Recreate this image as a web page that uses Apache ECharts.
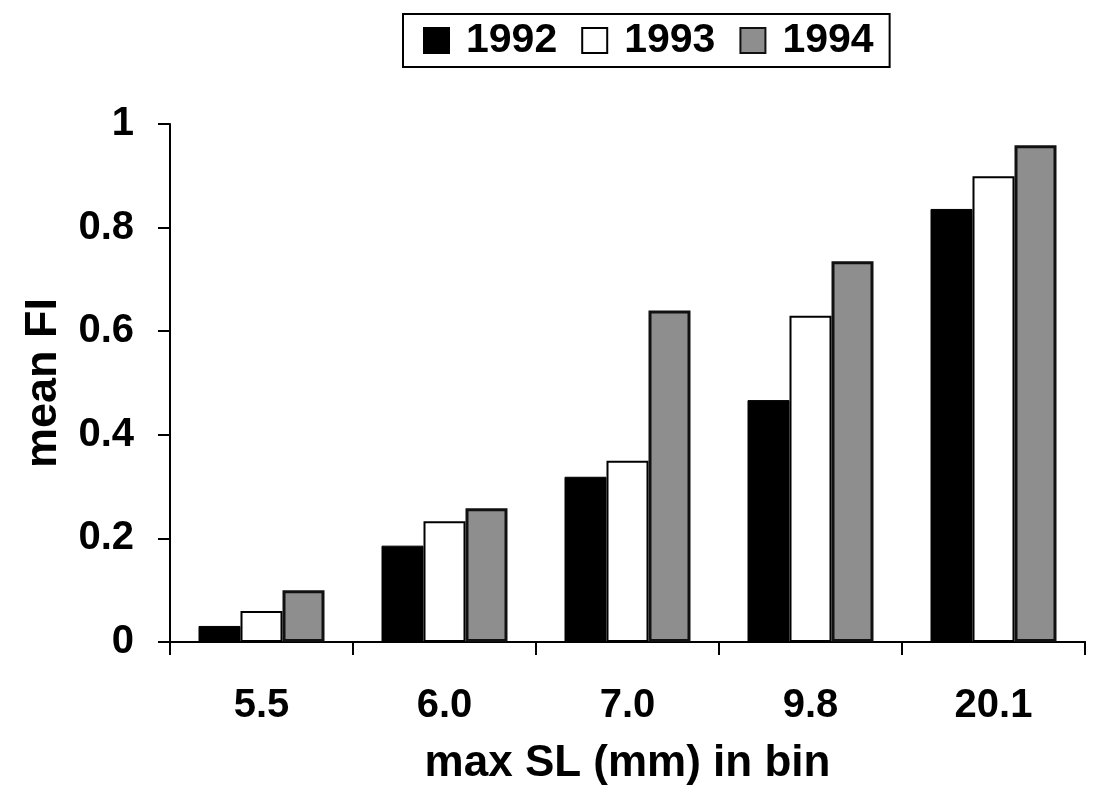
<!DOCTYPE html>
<html>
<head>
<meta charset="utf-8">
<script src="https://cdn.jsdelivr.net/npm/echarts@6/dist/echarts.min.js"></script>
<style>
html,body{margin:0;padding:0;background:#fff;}
#c{width:1112px;height:805px;}
</style>
</head>
<body>
<div id="c"></div>
<script>
const categories = ['5.5', '6.0', '7.0', '9.8', '20.1'];
const seriesNames = ['1992', '1993', '1994'];
const values1992 = [0.031, 0.186, 0.319, 0.467, 0.836];
const values1993 = [0.060, 0.233, 0.350, 0.630, 0.899];
const values1994 = [0.100, 0.258, 0.640, 0.735, 0.959];
const yTicks = [0, 0.2, 0.4, 0.6, 0.8, 1];

const FONT = '"Liberation Sans", Arial, sans-serif';
const chart = echarts.init(document.getElementById('c'), null, {renderer: 'canvas'});

const styles = [
  {color: '#000000', borderColor: '#000000', borderWidth: 1},
  {color: '#ffffff', borderColor: '#000000', borderWidth: 2},
  {color: '#8e8e8e', borderColor: '#111111', borderWidth: 3}
];
const dataSets = [values1992, values1993, values1994];

chart.setOption({
  animation: false,
  backgroundColor: '#ffffff',
  textStyle: {fontFamily: FONT, color: '#000'},
  legend: {
    data: seriesNames,
    top: 14,
    left: 403,
    itemWidth: 25,
    itemHeight: 25,
    itemGap: 24,
    padding: [6, 16, 6, 20],
    borderColor: '#000',
    borderWidth: 2,
    icon: 'rect',
    textStyle: {fontSize: 41, fontWeight: 'bold', color: '#000', fontFamily: FONT, padding: [0, 0, 0, 12]}
  },
  grid: {left: 170, right: 27, top: 124, bottom: 163, containLabel: false},
  xAxis: [{
    type: 'category',
    data: categories,
    position: 'bottom',
    name: 'max SL (mm) in bin',
    nameLocation: 'middle',
    nameGap: 100,
    nameTextStyle: {fontSize: 44, fontWeight: 'bold', color: '#000', fontFamily: FONT, verticalAlign: 'top'},
    axisLine: {show: true, onZero: false, lineStyle: {color: '#000', width: 2}},
    axisTick: {show: true, length: 13, lineStyle: {color: '#000', width: 2}},
    axisLabel: {fontSize: 40, fontWeight: 'bold', color: '#000', margin: 44, fontFamily: FONT}
  }, {
    type: 'category',
    data: categories,
    position: 'top',
    axisLine: {show: true, lineStyle: {color: '#000', width: 2}},
    axisTick: {show: false},
    axisLabel: {show: false}
  }],
  yAxis: {
    type: 'value',
    min: 0,
    max: 1,
    interval: 0.2,
    name: 'mean FI',
    nameLocation: 'middle',
    nameGap: 104,
    nameRotate: 90,
    nameTextStyle: {fontSize: 45, fontWeight: 'bold', color: '#000', fontFamily: FONT},
    axisLine: {show: true, lineStyle: {color: '#000', width: 2}},
    axisTick: {show: true, length: 12, lineStyle: {color: '#000', width: 2}},
    axisLabel: {
      fontSize: 40, fontWeight: 'bold', color: '#000', margin: 36, fontFamily: FONT,
      formatter: function (v) {
        for (const t of yTicks) { if (Math.abs(t - v) < 1e-9) return String(t); }
        return '';
      }
    },
    splitLine: {show: false}
  },
  series: seriesNames.map((name, i) => ({
    name: name,
    type: 'bar',
    xAxisIndex: 0,
    data: dataSets[i],
    barWidth: 42,
    barGap: '0%',
    itemStyle: styles[i]
  }))
});
</script>
</body>
</html>
